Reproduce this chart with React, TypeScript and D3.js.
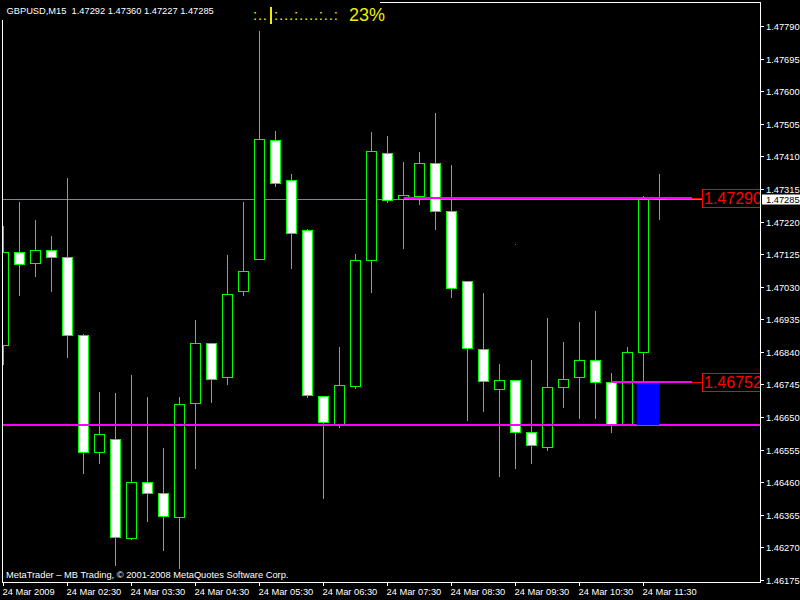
import React from 'react';
import * as d3 from 'd3';

// ---- data (GBPUSD M15, 24 Mar 2009, 01:30 .. 11:45) ----
const opens = [1.46860,1.47131,1.47099,1.47137,1.47117,1.46889,1.46548,1.46586,1.46298,1.46461,1.46429,1.46359,1.46691,1.46866,1.46767,1.47018,1.47111,1.47458,1.47341,1.47195,1.46711,1.46630,1.46741,1.47108,1.47420,1.47287,1.47294,1.47391,1.47252,1.47047,1.46848,1.46732,1.46758,1.46607,1.46563,1.46738,1.46767,1.46816,1.46752,1.46630,1.46840,1.47292];
const highs = [1.47207,1.47277,1.47225,1.47178,1.47347,1.46892,1.46723,1.46720,1.46773,1.46709,1.46560,1.46709,1.46933,1.46866,1.47122,1.47277,1.47775,1.47484,1.47359,1.47198,1.46711,1.46854,1.47125,1.47481,1.47469,1.47394,1.47423,1.47536,1.47385,1.47047,1.47012,1.46805,1.46758,1.46816,1.46939,1.46869,1.46927,1.46959,1.46779,1.46854,1.47294,1.47360];
const lows = [1.46805,1.47006,1.47061,1.47018,1.46825,1.46487,1.46516,1.46219,1.46295,1.46347,1.46263,1.46210,1.46502,1.46694,1.46746,1.47006,1.47111,1.47324,1.47085,1.46709,1.46414,1.46621,1.46735,1.47015,1.47277,1.47143,1.47271,1.47198,1.47000,1.46641,1.46668,1.46478,1.46502,1.46516,1.46554,1.46679,1.46647,1.46647,1.46607,1.46630,1.46714,1.47227];
const closes = [1.47131,1.47096,1.47137,1.47117,1.46889,1.46548,1.46601,1.46300,1.46461,1.46429,1.46362,1.46688,1.46866,1.46761,1.47009,1.47076,1.47461,1.47332,1.47187,1.46714,1.46636,1.46744,1.47108,1.47426,1.47283,1.47296,1.47391,1.47252,1.47026,1.46851,1.46755,1.46758,1.46607,1.46569,1.46738,1.46761,1.46816,1.46752,1.46630,1.46840,1.47287,1.47285];

const priceTicks = [1.47790,1.47695,1.47600,1.47505,1.47410,1.47315,1.47220,1.47125,1.47030,1.46935,1.46840,1.46745,1.46650,1.46555,1.46460,1.46365,1.46270,1.46175];
const timeTickBars = [0,4,8,12,16,20,24,28,32,36,40];
const timeTickLabels = ['24 Mar 2009','24 Mar 02:30','24 Mar 03:30','24 Mar 04:30','24 Mar 05:30','24 Mar 06:30','24 Mar 07:30','24 Mar 08:30','24 Mar 09:30','24 Mar 10:30','24 Mar 11:30'];

const titleText = 'GBPUSD,M15  1.47292 1.47360 1.47227 1.47285';
const copyrightText = 'MetaTrader \u2013 MB Trading, \u00a9 2001-2008 MetaQuotes Software Corp.';
const bidPrice = 1.47285;
const supportPrice = 1.46627;
const upperLevel = { price: 1.47290, fromBar: 25, label: '1.47290' };
const lowerLevel = { price: 1.46752, fromBar: 38, label: '1.46752' };
const boxRange = { fromBar: 39.6, toBar: 41, top: 1.46752, bottom: 1.46627 };
const indicatorLeft = ':..';
const indicatorRight = ':...:....:..:';
const indicatorPct = '23%';

const W = 800, H = 600;
const plotL = 2, plotR = 760, plotT = 2, plotB = 582;
const FONT = '"Liberation Sans", Arial, sans-serif';
const GREEN = '#00ff00';
const YELLOW = '#eeee00';

export default function App() {
  const x = d3.scaleLinear().domain([0, 41]).range([3, 659]);
  const y = d3.scaleLinear().domain([1.46175, 1.47790]).range([580, 26]);
  const py = (p: number) => Math.round(y(p));

  React.useEffect(() => {
    document.body.style.margin = '0';
    document.body.style.background = '#000';
  }, []);

  const candles = opens.map((o, i) => ({ o, h: highs[i], l: lows[i], c: closes[i], i }));

  return (
    <svg width={W} height={H} style={{ position: 'fixed', left: 0, top: 0, display: 'block', background: '#000' }}
      fontFamily={FONT}>
      <defs>
        <clipPath id="plot">
          <rect x={plotL + 1} y={plotT + 1} width={plotR - plotL - 1} height={plotB - plotT - 1} />
        </clipPath>
      </defs>
      <rect x={0} y={0} width={W} height={H} fill="#000" />

      <g clipPath="url(#plot)">
        {/* bid line */}
        <line x1={plotL} x2={plotR} y1={py(bidPrice) + 0.5} y2={py(bidPrice) + 0.5} stroke="#778899" strokeWidth={1} />
        {/* candles */}
        {candles.map(d => {
          const cx = Math.round(x(d.i)) + 0.5;
          const top = py(Math.max(d.o, d.c));
          const bot = py(Math.min(d.o, d.c));
          const bull = d.c >= d.o;
          return (
            <g key={d.i}>
              <line x1={cx} x2={cx} y1={py(d.h)} y2={py(d.l) + 1} stroke={GREEN} strokeWidth={1} />
              <rect x={cx - 5} y={top + 0.5} width={10} height={Math.max(bot - top, 1)}
                fill={bull ? '#000' : '#fff'} stroke={GREEN} strokeWidth={1} />
            </g>
          );
        })}
        {/* support line */}
        <line x1={plotL} x2={plotR} y1={py(supportPrice)} y2={py(supportPrice)} stroke="#ff00ff" strokeWidth={2} />
        {/* blue box */}
        <rect x={x(boxRange.fromBar)} y={py(boxRange.top)} width={x(boxRange.toBar) - x(boxRange.fromBar)}
          height={py(boxRange.bottom) - py(boxRange.top)} fill="#0000ff" />
        {/* level lines with labels */}
        {[upperLevel, lowerLevel].map((lv, k) => {
          const ly = py(lv.price);
          const x0 = Math.round(x(lv.fromBar)) + 0.5;
          return (
            <g key={k}>
              <line x1={x0} x2={692} y1={ly} y2={ly} stroke="#ff00ff" strokeWidth={2} />
              <line x1={692} x2={702} y1={ly + 0.5} y2={ly + 0.5} stroke="#ff0000" strokeWidth={1} />
              <rect x={702.5} y={ly - 8.5} width={70} height={18} fill="#000" stroke="#ff0000" strokeWidth={1} />
              <text x={704} y={ly + 6} fill="#ff0000" fontSize={16}>{lv.label}</text>
            </g>
          );
        })}
        <rect x={515} y={244} width={1} height={1} fill="#ff00ff" />
      </g>

      {/* frame */}
      <line x1={plotL + 0.5} x2={plotL + 0.5} y1={20} y2={plotB + 0.5} stroke="#fff" />
      <line x1={380} x2={plotR + 0.5} y1={plotT + 0.5} y2={plotT + 0.5} stroke="#fff" />
      <line x1={plotR + 0.5} x2={plotR + 0.5} y1={plotT} y2={plotB + 1} stroke="#fff" />
      <line x1={plotL} x2={plotR + 1} y1={plotB + 0.5} y2={plotB + 0.5} stroke="#fff" />

      {/* price axis */}
      {priceTicks.map(p => (
        <g key={p}>
          <line x1={plotR} x2={plotR + 4} y1={py(p) + 0.5} y2={py(p) + 0.5} stroke="#fff" />
          <text x={766} y={py(p) + 3.5} fill="#fff" fontSize={9.3}>{p.toFixed(5)}</text>
        </g>
      ))}
      <rect x={762} y={py(bidPrice) - 4.5} width={38} height={10} fill="#fff" />
      <text x={766} y={py(bidPrice) + 3.5} fill="#000" fontSize={9.3}>{bidPrice.toFixed(5)}</text>

      {/* time axis */}
      {timeTickBars.map((b, k) => {
        const tx = Math.round(x(b)) + 0.5;
        return (
          <g key={b}>
            <line x1={tx} x2={tx} y1={plotB} y2={plotB + 4} stroke="#fff" />
            <text x={tx - 1} y={595} fill="#fff" fontSize={9.3}>{timeTickLabels[k]}</text>
          </g>
        );
      })}

      {/* texts */}
      <text x={6.5} y={14} fill="#fff" fontSize={9.3} style={{ whiteSpace: 'pre' }}>{titleText}</text>
      <text x={6} y={578} fill="#fff" fontSize={9.3}>{copyrightText}</text>

      {/* indicator */}
      <text x={253} y={20} fill={YELLOW} fontSize={15} textLength={14} lengthAdjust="spacing">{indicatorLeft}</text>
      <rect x={270} y={7} width={2} height={17} fill={YELLOW} />
      <text x={274} y={20} fill={YELLOW} fontSize={15} textLength={64} lengthAdjust="spacing">{indicatorRight}</text>
      <text x={349} y={21} fill={YELLOW} fontSize={18}>{indicatorPct}</text>
    </svg>
  );
}
